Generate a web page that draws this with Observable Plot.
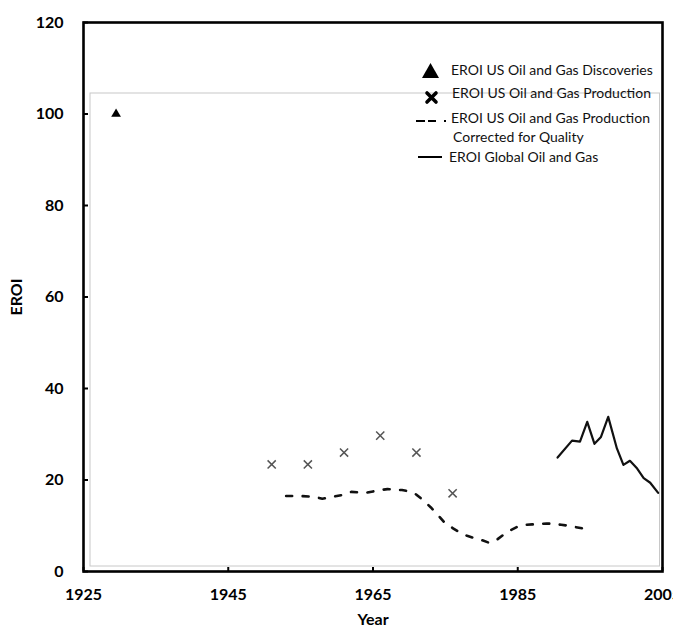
<!DOCTYPE html>
<html><head><meta charset="utf-8">
<script src="https://cdn.jsdelivr.net/npm/d3@7"></script>
<script src="https://cdn.jsdelivr.net/npm/@observablehq/plot@0.6"></script>
<style>
body{margin:0;background:#fff;}
#wrap{position:relative;width:673px;height:628px;overflow:hidden;font-family:Lato,"Open Sans",sans-serif;background:#fff;}
.leg{position:absolute;font-size:14px;color:#111;white-space:nowrap;line-height:16px;transform:translateY(-50%);}
.sw{position:absolute;overflow:visible;}
</style></head><body><div id="wrap"></div>
<script>
// Data
const discoveryYears = [1929.5];
const discoveryEroi  = [100];

const productionYears = [1951, 1956, 1961, 1966, 1971, 1976];
const productionEroi  = [23.4, 23.4, 26.0, 29.7, 26.0, 17.1];

const qualityYears = [1953,1955,1957,1958,1959,1960,1961,1962,1963,1964,1965,1966,1967,1968,1969,1970,1971,1972,1973,1974,1975,1976,1977,1978,1979,1980,1981,1982,1983,1984,1985,1986,1987,1988,1989,1990,1991,1992,1993,1994];
const qualityEroi  = [16.5,16.5,16.3,15.9,16.2,16.5,16.8,17.4,17.3,17.2,17.5,17.8,18.0,17.9,17.8,17.5,16.8,15.5,14.0,12.3,10.5,9.5,8.5,7.8,7.3,6.9,6.3,6.8,8.0,9.0,9.8,10.2,10.3,10.4,10.5,10.4,10.2,10.0,9.7,9.4];

const globalYears = [1990.5,1992.5,1993.6,1994.6,1995.6,1996.5,1997.5,1998.7,1999.6,2000.5,2001.5,2002.4,2003.3,2004.4];
const globalEroi  = [24.9,28.6,28.4,32.7,27.9,29.4,33.8,26.9,23.3,24.2,22.5,20.4,19.4,17.2];

const xTicks = [1925, 1945, 1965, 1985, 2005];
const yTicks = [0, 20, 40, 60, 80, 100, 120];

const legendLabels = [
  "EROI US Oil and Gas Discoveries",
  "EROI US Oil and Gas Production",
  "EROI US Oil and Gas Production",
  "Corrected for Quality",
  "EROI Global Oil and Gas"
];

const zip = (xs, ys) => xs.map((x, i) => ({year: x, eroi: ys[i]}));
const discovery = zip(discoveryYears, discoveryEroi);
const production = zip(productionYears, productionEroi);
const quality = zip(qualityYears, qualityEroi);
const global = zip(globalYears, globalEroi);

const chart = Plot.plot({
  width: 673,
  height: 628,
  marginLeft: 83,
  marginRight: 11,
  marginTop: 22,
  marginBottom: 57,
  style: {fontFamily: "Lato, 'Open Sans', sans-serif", background: "#fff", overflow: "hidden"},
  x: {domain: [1925, 2005]},
  y: {domain: [0, 120]},
  marks: [
    Plot.frame({stroke: "#c8c8c8", strokeWidth: 1, insetLeft: 6.5, insetTop: 70.5, insetRight: 3, insetBottom: 5.5}),
    Plot.line(quality, {x: "year", y: "eroi", stroke: "#111", strokeWidth: 2.6, strokeDasharray: "6,10.5"}),
    Plot.line(global, {x: "year", y: "eroi", stroke: "#111", strokeWidth: 2.2}),
    Plot.dot(production, {x: "year", y: "eroi", symbol: "times", r: 3.8, stroke: "#555", strokeWidth: 1.5}),
    Plot.dot(discovery, {x: "year", y: "eroi", symbol: "triangle", r: 3.6, fill: "#000", stroke: "none"}),
    // inward tick marks
    Plot.axisY({ticks: yTicks, tickSize: 5, dx: 5, tickFormat: () => "", strokeWidth: 2, label: null}),
    Plot.axisX({ticks: xTicks, tickSize: 4, dy: -4, tickFormat: () => "", strokeWidth: 2, label: null}),
    // tick labels and titles
    Plot.axisY({ticks: yTicks, tickSize: 0, tickPadding: 20, fontSize: 16, fontWeight: "bold", fill: "#000",
      label: "EROI", labelAnchor: "center", labelArrow: "none", labelOffset: 73}),
    Plot.axisX({ticks: xTicks, tickFormat: d => String(d), tickSize: 0, tickPadding: 17, fontSize: 16, fontWeight: "bold", fill: "#000",
      label: "Year", labelAnchor: "center", labelArrow: "none", labelOffset: 53}),
    Plot.frame({stroke: "#000", strokeWidth: 2.6})
  ]
});
const wrap = document.getElementById("wrap");
wrap.appendChild(chart);

// Legend overlay
const ns = "http://www.w3.org/2000/svg";
function swatch(left, top, w, h, inner) {
  const s = document.createElementNS(ns, "svg");
  s.setAttribute("class", "sw");
  s.setAttribute("width", w); s.setAttribute("height", h);
  s.style.left = left + "px"; s.style.top = top + "px";
  s.innerHTML = inner;
  wrap.appendChild(s);
}
function label(text, left, cy) {
  const d = document.createElement("div");
  d.className = "leg";
  d.textContent = text;
  d.style.left = left + "px"; d.style.top = cy + "px";
  wrap.appendChild(d);
}
swatch(422, 63, 17, 15, '<path d="M8.5,0 L17,15 L0,15 Z" fill="#000"/>');
swatch(425, 91, 13, 13, '<path d="M2,2 L11,11 M11,2 L2,11" stroke="#000" stroke-width="3.6" stroke-linecap="round"/>');
swatch(415, 118, 34, 6, '<path d="M1,3 H10 M13,3 H21 M29,3 H31" stroke="#000" stroke-width="2"/>');
swatch(418, 154, 25, 6, '<path d="M0,3 H24" stroke="#000" stroke-width="2"/>');
label(legendLabels[0], 451, 70);
label(legendLabels[1], 452, 93);
label(legendLabels[2], 451, 118);
label(legendLabels[3], 453, 137);
label(legendLabels[4], 449, 157);
</script></body></html>
